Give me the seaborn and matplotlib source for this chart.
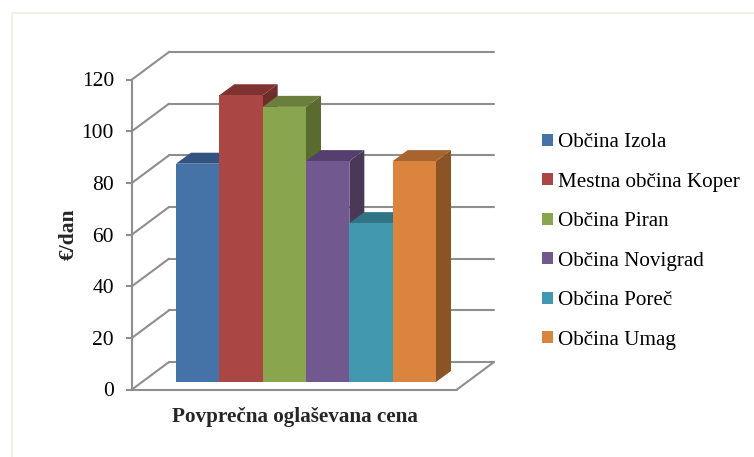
import matplotlib
matplotlib.use("Agg")
import matplotlib.pyplot as plt
import seaborn as sns
import pandas as pd
from matplotlib.lines import Line2D
from matplotlib.patches import Patch, Polygon
from matplotlib.transforms import Affine2D

# data
obcine = ["Občina Izola", "Mestna občina Koper", "Občina Piran",
          "Občina Novigrad", "Občina Poreč", "Občina Umag"]
cene = [84.5, 111, 106.5, 85.5, 61.5, 85.5]
yticks = [0, 20, 40, 60, 80, 100, 120]
kategorija = "Povprečna oglaševana cena"
ylabel = "€/dan"

front_cols = ["#4573A7", "#AA4643", "#89A54E", "#71588F", "#4198AF", "#DB843D"]
top_cols = ["#335480", "#7F3331", "#6A7F3B", "#553F6E", "#317485", "#A7642E"]
side_cols = ["#2C4A70", "#6E2C2A", "#5A6B30", "#4A3859", "#2B6373", "#8A5426"]
grid_col = "#8E8E8E"

W, H = 754, 457
sns.set_style("white")
plt.rcParams["font.family"] = ["Liberation Serif", "DejaVu Serif"]

df = pd.DataFrame({"obcina": obcine, "cena": cene})

fig = plt.figure(figsize=(W / 100, H / 100), dpi=100, facecolor="white")

# thin beige frame, only left and top edges are in the picture
fig.add_artist(Line2D([11.5 / W, 11.5 / W, 1], [0, (H - 12.5) / H, (H - 12.5) / H],
                      transform=fig.transFigure, color="#EFEDE0", lw=1.2))

# front plane of the box, this one carries the value axis
ax = fig.add_axes([132 / W, (H - 389.5) / H, 325 / W, 310 / H])
ax.patch.set_alpha(0)
ax.set_xlim(0, 1)
ax.set_ylim(0, 120)
for s in ["top", "right", "bottom"]:
    ax.spines[s].set_visible(False)
ax.spines["left"].set_color(grid_col)
ax.spines["left"].set_linewidth(1.5)
ax.set_yticks(yticks)
ax.tick_params(axis="y", left=True, length=4, width=1.5, color=grid_col,
               labelsize=15.5, labelcolor="black", pad=9)
ax.set_xticks([0.5], [kategorija], fontsize=15.2, fontweight="bold")
ax.tick_params(axis="x", bottom=False, pad=9)
ax.set_ylabel(ylabel, fontsize=15.5, fontweight="bold", labelpad=2)

# back wall is the front plane shifted in pixels
back = Affine2D().translate(37, 27.5)
back_tr = ax.transData + back
line_kw = dict(color=grid_col, lw=1.5, clip_on=False, zorder=1)
for v in yticks:
    ax.plot([0, 1], [v, v], transform=back_tr, **line_kw)
    p0 = ax.transData.transform((0, v))
    ax.plot([p0[0], p0[0] + 37], [p0[1], p0[1] + 27.5], transform=None, **line_kw)
ax.plot([0, 1], [0, 0], **line_kw)
p1 = ax.transData.transform((1, 0))
ax.plot([p1[0], p1[0] + 37], [p1[1], p1[1] + 27.5], transform=None, **line_kw)

# bars stand a little deeper inside the box
ax_bars = fig.add_axes([176 / W, (H - 382) / H, 260 / W, 310 / H])
ax_bars.patch.set_alpha(0)
sns.barplot(data=df, x="obcina", y="cena", hue="obcina", palette=front_cols,
            order=obcine, hue_order=obcine, width=1, dodge=False, saturation=1,
            legend=False, ax=ax_bars)
ax_bars.set_xlim(-0.5, 5.5)
ax_bars.set_ylim(0, 120)
ax_bars.axis("off")

dx = 15 / (260 / 6)
dy = 11 / (310 / 120)
for i, bar in enumerate(b for c in ax_bars.containers for b in c):
    x0 = bar.get_x()
    x1 = x0 + bar.get_width()
    h = bar.get_height()
    bar.set_zorder(3 * i + 3)
    bar.set_edgecolor("none")
    ax_bars.add_patch(Polygon([(x1, 0), (x1 + dx, dy), (x1 + dx, h + dy), (x1, h)],
                              facecolor=side_cols[i], edgecolor="none",
                              clip_on=False, zorder=3 * i + 2))
    ax_bars.add_patch(Polygon([(x0, h), (x0 + dx, h + dy), (x1 + dx, h + dy), (x1, h)],
                              facecolor=top_cols[i], edgecolor="none",
                              clip_on=False, zorder=3 * i + 2))

handles = [Patch(facecolor=c, edgecolor="none", label=o)
           for c, o in zip(front_cols, obcine)]
fig.legend(handles=handles, loc="center left", bbox_to_anchor=(542 / W, (H - 241.5) / H),
           frameon=False, fontsize=15.2, handlelength=0.52, handleheight=0.52,
           handletextpad=0.24, labelspacing=0.97, borderpad=0, borderaxespad=0,
           labelcolor="black")

fig.savefig("out.png", dpi=100)
plt.close(fig)
